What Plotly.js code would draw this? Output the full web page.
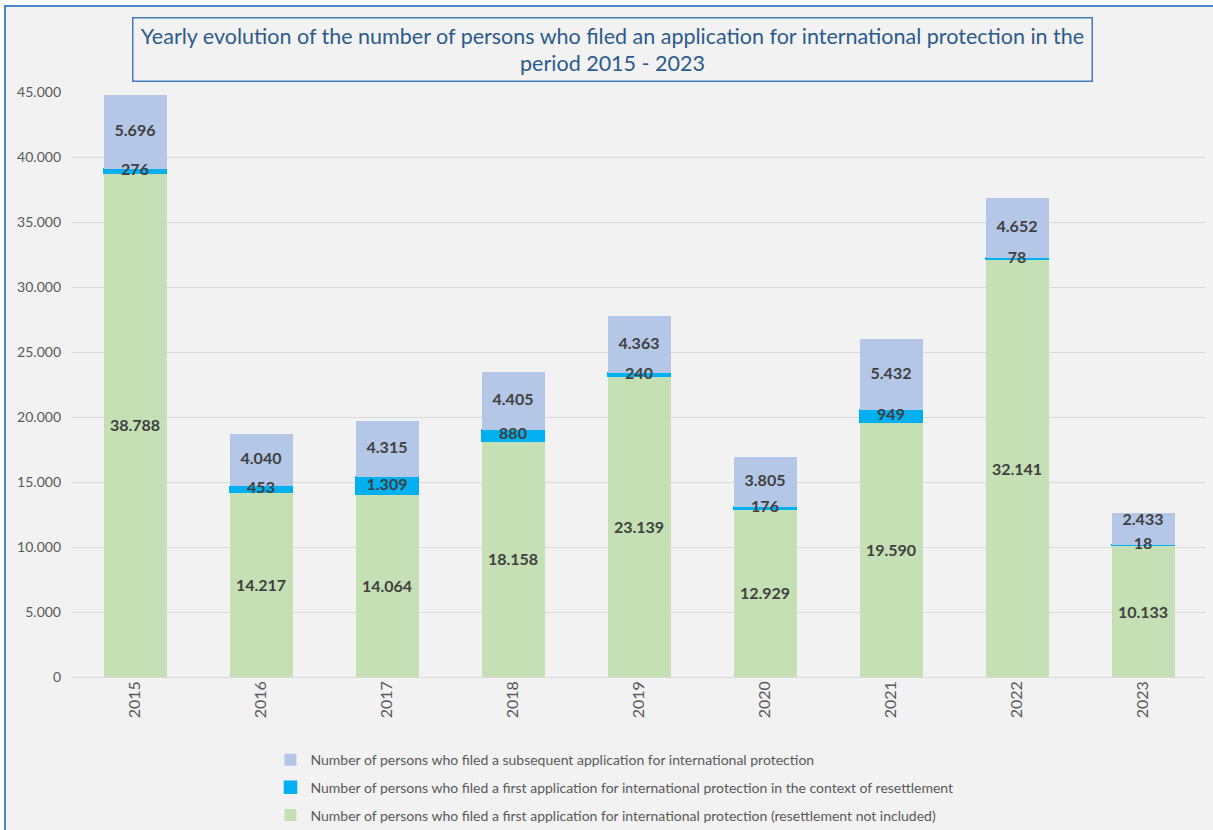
<!DOCTYPE html>
<html>
<head>
<meta charset="utf-8">
<script src="https://cdn.plot.ly/plotly-3.0.1.min.js"></script>
<style>
  body { margin: 0; background: #ffffff; overflow: hidden; }
  #plot {
    position: absolute; left: 4px; top: 5px;
    width: 1209px; height: 860px;
    border-top: 2px solid #4a86c5; border-left: 2px solid #4a86c5;
  }
</style>
</head>
<body>
<div id="plot"></div>
<script>
const years = ["2015", "2016", "2017", "2018", "2019", "2020", "2021", "2022", "2023"];
const firstApps = [38788, 14217, 14064, 18158, 23139, 12929, 19590, 32141, 10133];
const resettlement = [276, 453, 1309, 880, 240, 176, 949, 78, 18];
const subsequent = [5696, 4040, 4315, 4405, 4363, 3805, 5432, 4652, 2433];
const yTicks = [0, 5000, 10000, 15000, 20000, 25000, 30000, 35000, 40000, 45000];

const FONT = "Lato, 'Open Sans', sans-serif";
const LABEL_FONT = { family: FONT, size: 16, color: "#404040", weight: "bold" };

// thousands with a dot, like the source
function fmt(v) {
  return String(v).replace(/\B(?=(\d{3})+(?!\d))/g, ".");
}

function barTrace(values, name, color, rank) {
  return {
    x: years,
    y: values,
    type: "bar",
    name: name,
    legendgroup: name,
    legendrank: rank,
    marker: { color: color },
    textposition: "none",
    hoverinfo: "x+y+name",
  };
}

const firstTrace = barTrace(firstApps, "Number of persons who filed a first application for international protection (resettlement not included)", "#c5e0b4", 3);
firstTrace.text = firstApps.map(fmt);
firstTrace.textposition = "inside";
firstTrace.insidetextanchor = "middle";
firstTrace.textangle = 0;
firstTrace.insidetextfont = LABEL_FONT;

const resetTrace = barTrace(resettlement, "Number of persons who filed a first application for international protection in the context of resettlement", "#00b0f0", 2);
resetTrace.marker.line = { color: "#00b0f0", width: 1.5 };
const subTrace = barTrace(subsequent, "Number of persons who filed a subsequent application for international protection", "#b4c7e7", 1);

// labels of the upper segments, drawn on top of all bars
function labelTrace(values, base, positions) {
  return {
    x: years,
    y: values.map((v, i) => base[i] + v / 2),
    type: "scatter",
    mode: "text",
    text: values.map(fmt),
    textposition: positions,
    textfont: LABEL_FONT,
    showlegend: false,
    hoverinfo: "skip",
    cliponaxis: false,
  };
}
const below = firstApps.map((v, i) => v + resettlement[i]);
// 2023 label sits a bit higher so it clears the "18"
const subPos = years.map((y) => (y === "2023" ? "top center" : "middle center"));
const resetLabels = labelTrace(resettlement, firstApps, "middle center");
const subLabels = labelTrace(subsequent, below, subPos);

const layout = {
  barmode: "stack",
  bargap: 0.5,
  separators: ",.",
  paper_bgcolor: "#f2f2f2",
  plot_bgcolor: "#f2f2f2",
  font: { family: FONT, size: 14, color: "#595959" },
  margin: { l: 66, r: 9, t: 85, b: 190 },
  xaxis: {
    tickangle: -90,
    showline: false,
    showgrid: false,
    ticks: "",
    automargin: false,
    tickfont: { size: 16, color: "#595959" },
  },
  yaxis: {
    range: [0, 45000],
    tickvals: yTicks,
    ticktext: yTicks.map(fmt),
    gridcolor: "#d9d9d9",
    zerolinecolor: "#d9d9d9",
    showline: false,
    ticks: "",
    automargin: false,
    ticklabelstandoff: 10,
    tickfont: { size: 14, color: "#595959" },
  },
  showlegend: true,
  legend: {
    orientation: "v",
    traceorder: "grouped",
    tracegroupgap: 6.5,
    x: 0.175,
    xanchor: "left",
    y: -0.1146,
    yanchor: "top",
    bgcolor: "rgba(0,0,0,0)",
    font: { size: 14, color: "#595959" },
  },
  annotations: [{
    xref: "paper",
    yref: "paper",
    x: 0.477,
    y: 1.0735,
    xanchor: "center",
    yanchor: "middle",
    text: "Yearly evolution of the number of persons who filed an application for international protection in the<br>period 2015 - 2023",
    showarrow: false,
    font: { size: 21.5, color: "#2c5a8c" },
    width: 954,
    height: 58,
    borderpad: 2,
    bordercolor: "#3f7cc0",
    borderwidth: 1.5,
    bgcolor: "#f2f2f2",
  }],
};

Plotly.newPlot("plot", [firstTrace, resetTrace, subTrace, resetLabels, subLabels], layout, { displayModeBar: false });
</script>
</body>
</html>
